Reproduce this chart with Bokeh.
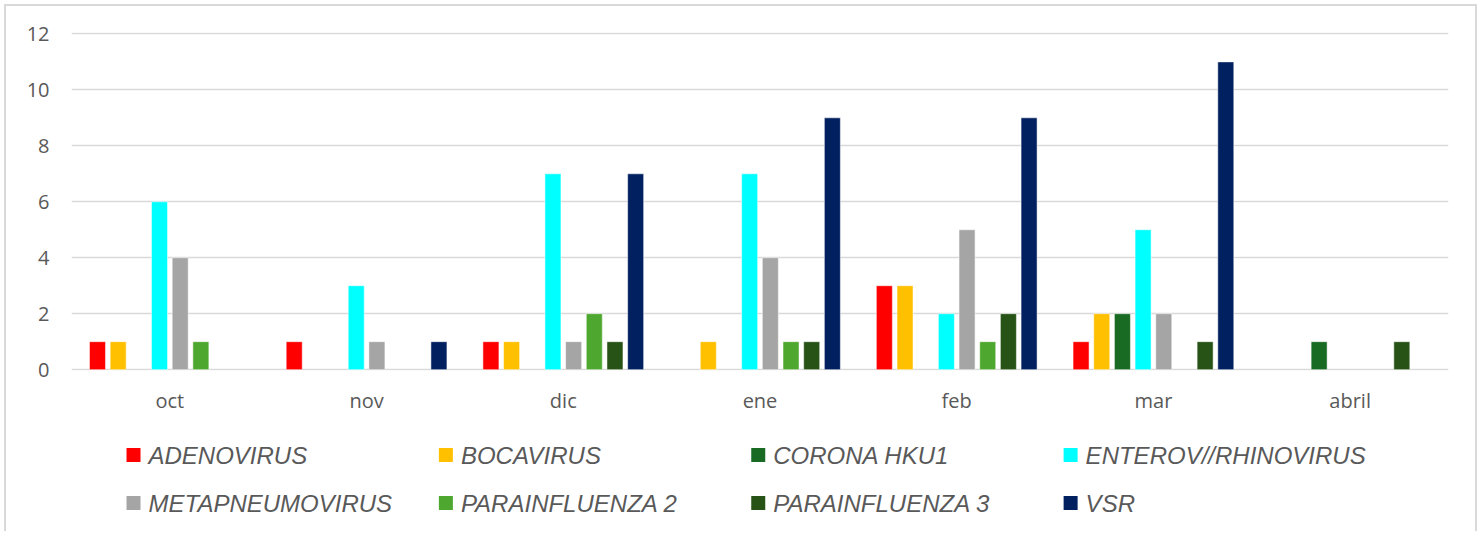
import math
from bokeh.plotting import figure
from bokeh.layouts import column
from bokeh.models import ColumnDataSource, FactorRange, Range1d
from bokeh.transform import dodge
from bokeh.core.properties import value
from bokeh.embed import file_html
from bokeh.resources import INLINE

months = ["oct", "nov", "dic", "ene", "feb", "mar", "abril"]
series = ["ADENOVIRUS", "BOCAVIRUS", "CORONA HKU1", "ENTEROV//RHINOVIRUS",
          "METAPNEUMOVIRUS", "PARAINFLUENZA 2", "PARAINFLUENZA 3", "VSR"]

adenovirus = [1, 1, 1, 0, 3, 1, 0]
bocavirus = [1, 0, 1, 1, 3, 2, 0]
corona_hku1 = [0, 0, 0, 0, 0, 2, 1]
enterov_rhinovirus = [6, 3, 7, 7, 2, 5, 0]
metapneumovirus = [4, 1, 1, 4, 5, 2, 0]
parainfluenza_2 = [1, 0, 2, 1, 1, 0, 0]
parainfluenza_3 = [0, 0, 1, 1, 2, 1, 1]
vsr = [0, 1, 7, 9, 9, 11, 0]

values = [adenovirus, bocavirus, corona_hku1, enterov_rhinovirus,
          metapneumovirus, parainfluenza_2, parainfluenza_3, vsr]
colors = ["#FF0000", "#FFC000", "#196B24", "#00FFFF",
          "#A5A5A5", "#4EA72E", "#275317", "#002060"]
yticks = [0, 2, 4, 6, 8, 10, 12]

GRAY_TXT = "#595959"
GRID = "#D9D9D9"
W = 1469
QH = 105

# ---- main chart ----
p = figure(x_range=FactorRange(*months), y_range=Range1d(-0.03, 12.05),
           width=W, height=420, output_backend="svg", toolbar_location=None,
           min_border_left=65, min_border_right=27, min_border_top=26,
           min_border_bottom=56)
p.outline_line_color = None
p.xgrid.grid_line_color = None
p.ygrid.grid_line_color = GRID
p.ygrid.grid_line_width = 1.6
p.yaxis.ticker = yticks

for ax in (p.xaxis, p.yaxis):
    ax.axis_line_color = None
    ax.major_tick_line_color = None
    ax.minor_tick_line_color = None
    ax.major_tick_in = 0
    ax.major_tick_out = 0
    ax.major_label_text_color = GRAY_TXT
    ax.major_label_text_font = "Open Sans"
    ax.major_label_text_font_size = "20px"
p.yaxis.major_label_standoff = 22
p.xaxis.major_label_standoff = 16

step = 0.1051
for i, (name, vals, col) in enumerate(zip(series, values, colors)):
    tops = [v if v else math.nan for v in vals]
    src = ColumnDataSource(dict(month=months, top=tops))
    p.vbar(x=dodge("month", (i - 3.5) * step, range=p.x_range), top="top", bottom=0,
           width=0.0814, source=src, fill_color=col, line_color="white",
           line_alpha=0.5, line_width=1)

# ---- legend strip (coordinates in page pixels; frame is aligned with the chart's) ----
q = figure(x_range=Range1d(71, 1447.7), y_range=Range1d(426 + QH, 426),
           width=W, height=QH, output_backend="svg", toolbar_location=None,
           min_border_left=0, min_border_right=0, min_border_top=0,
           min_border_bottom=0)
q.axis.visible = False
q.grid.visible = False
q.outline_line_color = None

col_step = 312.3
row_step = 48
cols = [i % 4 for i in range(len(series))]
rows = [i // 4 for i in range(len(series))]
leg = ColumnDataSource(dict(
    mx=[133 + c * col_step for c in cols],
    my=[454.5 + r * row_step for r in rows],
    tx=[148 + c * col_step for c in cols],
    name=series, color=colors))
q.rect(x="mx", y="my", width=14, height=14, source=leg,
       fill_color="color", line_color=None)
q.text(x="tx", y="my", text="name", source=leg,
       text_font=value("Liberation Sans"), text_font_style="italic",
       text_font_size="24px", text_color=GRAY_TXT,
       text_baseline="middle", text_align="left")

layout = column(p, q, spacing=0,
                styles={"border": "2px solid #D9D9D9", "border-bottom": "none",
                        "margin-left": "4px", "margin-top": "4px"})

open("out.html", "w").write(file_html(layout, INLINE))
